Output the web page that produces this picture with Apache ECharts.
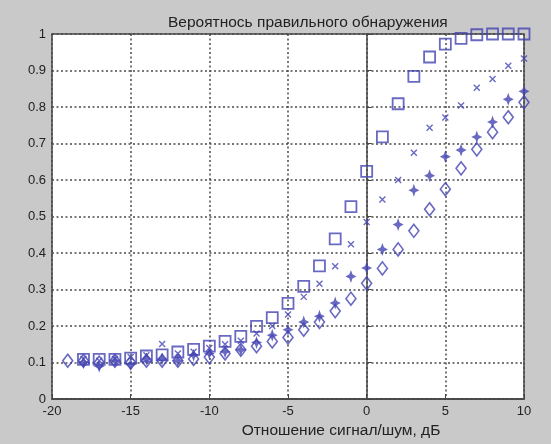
<!DOCTYPE html>
<html><head><meta charset="utf-8">
<script src="https://cdn.jsdelivr.net/npm/echarts@6/dist/echarts.min.js"></script>
<style>html,body{margin:0;padding:0;background:#c9c9c9}#c{width:551px;height:444px}</style>
</head><body><div id="c"></div><script>
const titleText = 'Вероятнось правильного обнаружения';
const xName = 'Отношение сигнал/шум, дБ';
const snr = [-19,-18,-17,-16,-15,-14,-13,-12,-11,-10,-9,-8,-7,-6,-5,-4,-3,-2,-1,0,1,2,3,4,5,6,7,8,9,10];
const pSquare = [null,0.109,0.109,0.109,0.112,0.118,0.121,0.129,0.136,0.145,0.158,0.172,0.199,0.223,0.262,0.309,0.365,0.439,0.527,0.624,0.718,0.809,0.884,0.937,0.972,0.988,0.998,1,1,1];
const pCross = [null,0.11,0.105,0.11,0.115,0.12,0.151,0.125,0.13,0.14,0.15,0.16,0.18,0.2,0.232,0.28,0.316,0.364,0.424,0.485,0.547,0.6,0.675,0.743,0.771,0.804,0.853,0.877,0.913,0.933];
const pStar = [null,0.10,0.09,0.105,0.095,0.11,0.11,0.105,0.12,0.125,0.13,0.135,0.155,0.175,0.19,0.211,0.227,0.263,0.336,0.359,0.41,0.478,0.572,0.612,0.664,0.682,0.718,0.759,0.821,0.843];
const pDiamond = [0.105,0.105,0.10,0.105,0.10,0.105,0.105,0.105,0.11,0.115,0.125,0.135,0.145,0.158,0.169,0.19,0.211,0.241,0.275,0.317,0.358,0.41,0.461,0.52,0.575,0.632,0.684,0.731,0.772,0.813];

const blue = '#4343b3';
const pairs = arr => snr.map((x,i)=>[x,arr[i]]).filter(d=>d[1]!==null);
const chart = echarts.init(document.getElementById('c'));
const font = 'Liberation Sans, Arial, sans-serif';
const gridLine = {show: true, lineStyle: {color: '#4a4a4a', type: [2,2.5], width: 1.5}};
chart.setOption({
  backgroundColor: '#c9c9c9',
  animation: false,
  title: {text: titleText, left: 163, top: 10,
    textStyle: {fontFamily: font, fontSize: 15.5, fontWeight: 'normal', color: '#222'}},
  grid: {left: 52, right: 27, top: 34, bottom: 38, show: true, backgroundColor: '#fff', borderColor: '#444', borderWidth: 1.5},
  xAxis: {type: 'value', min: -20, max: 10, interval: 5,
    name: xName, nameLocation: 'middle', nameGap: 22,
    nameTextStyle: {fontFamily: font, fontSize: 15.5, color: '#222', padding: [0,0,0,106]},
    axisLine: {lineStyle: {color: '#444', width: 1.5}},
    axisTick: {inside: true, length: 5, lineStyle: {color: '#444'}},
    axisLabel: {fontFamily: font, fontSize: 13, color: '#222', margin: 6},
    splitLine: gridLine},
  yAxis: {type: 'value', min: 0, max: 1, interval: 0.1,
    axisLine: {show: true, lineStyle: {color: '#444', width: 1.5}},
    axisTick: {show: true, inside: true, length: 5, lineStyle: {color: '#444'}},
    axisLabel: {fontFamily: font, fontSize: 13, color: '#222', margin: 6},
    splitLine: gridLine},
  series: [
    {type: 'scatter', data: pairs(pDiamond), symbol: 'diamond', symbolSize: [10,13], clip: false,
      itemStyle: {color: 'rgba(0,0,0,0)', borderColor: blue, borderWidth: 1.6}},
    {type: 'scatter', data: pairs(pStar), symbol: 'path://M5,0L6.4,3.4L10,5L6.4,6.6L5,10L3.6,6.6L0,5L3.6,3.4Z', symbolSize: [11,13], clip: false,
      itemStyle: {color: blue}},
    {type: 'scatter', data: pairs(pCross), symbol: 'path://M0,0L10,10M10,0L0,10', symbolSize: 6, clip: false,
      itemStyle: {color: 'rgba(0,0,0,0)', borderColor: blue, borderWidth: 1.4}},
    {type: 'scatter', data: pairs(pSquare), symbol: 'rect', symbolSize: 11, clip: false,
      itemStyle: {color: 'rgba(0,0,0,0)', borderColor: blue, borderWidth: 1.8}}
  ]
});
</script></body></html>
